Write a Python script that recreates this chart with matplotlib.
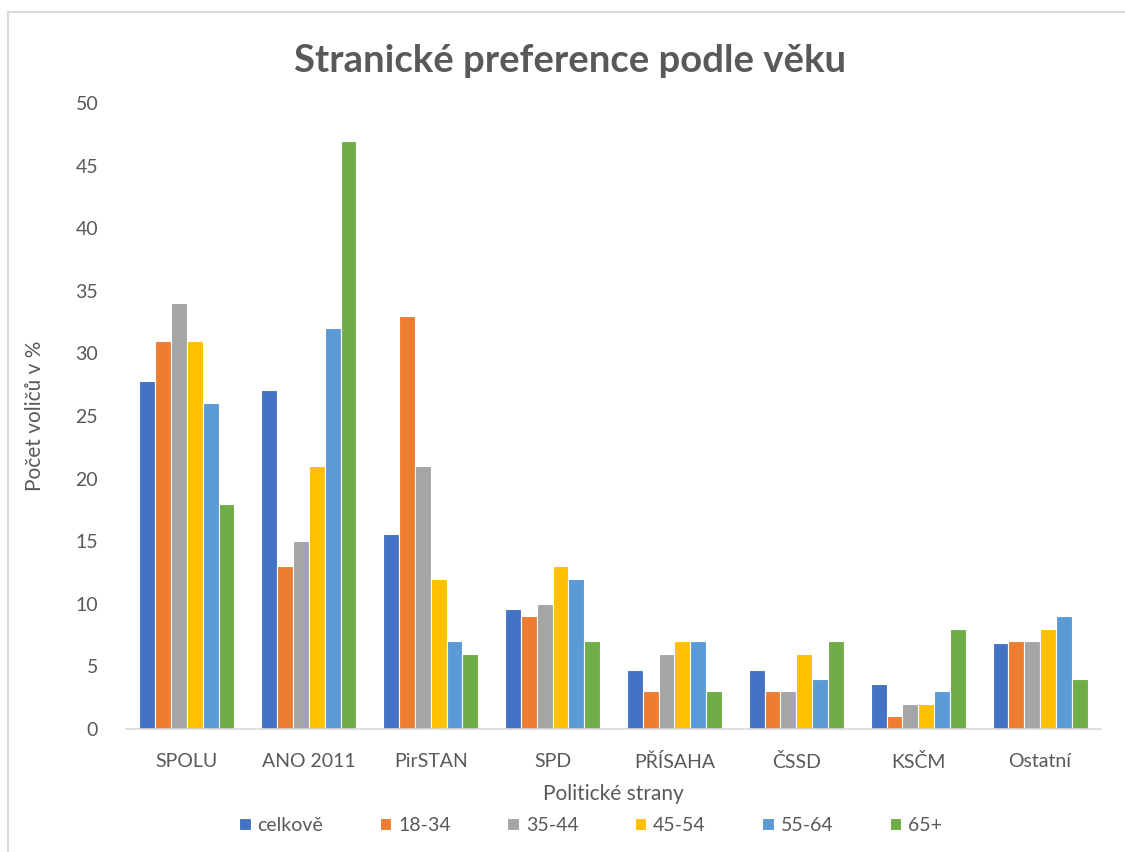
import matplotlib
matplotlib.use("Agg")
import matplotlib.pyplot as plt
import numpy as np
from matplotlib.patches import Rectangle

plt.rcParams['font.family'] = ['Lato', 'DejaVu Sans']

strany = ['SPOLU', 'ANO 2011', 'PirSTAN', 'SPD', 'PŘÍSAHA', 'ČSSD', 'KSČM', 'Ostatní']
skupiny = ['celkově', '18-34', '35-44', '45-54', '55-64', '65+']

celkove = [27.8, 27.1, 15.6, 9.6, 4.7, 4.7, 3.6, 6.9]
vek_18_34 = [31, 13, 33, 9, 3, 3, 1, 7]
vek_35_44 = [34, 15, 21, 10, 6, 3, 2, 7]
vek_45_54 = [31, 21, 12, 13, 7, 6, 2, 8]
vek_55_64 = [26, 32, 7, 12, 7, 4, 3, 9]
vek_65 = [18, 47, 6, 7, 3, 7, 8, 4]

hodnoty = [celkove, vek_18_34, vek_35_44, vek_45_54, vek_55_64, vek_65]
barvy = ['#4472C4', '#ED7D31', '#A5A5A5', '#FFC000', '#5B9BD5', '#70AD47']
text_col = '#595959'

fig = plt.figure(figsize=(11.25, 8.52), dpi=100)
ax = fig.add_axes([0.112, 0.1444, 0.8667, 0.7347])

x = np.arange(len(strany))
w = 0.13
for i, (vals, col, lab) in enumerate(zip(hodnoty, barvy, skupiny)):
    ax.bar(x + (i - 2.5) * w, vals, width=w, color=col, edgecolor='white',
           linewidth=0.8, label=lab)

ax.set_xlim(-0.5, len(strany) - 0.5)
ax.set_ylim(0, 50)
ax.set_yticks(np.arange(0, 51, 5))
ax.set_xticks(x)
ax.set_xticklabels(strany)
ax.tick_params(axis='both', length=0, labelsize=14, colors=text_col)
ax.tick_params(axis='y', pad=20)
ax.tick_params(axis='x', pad=17)
for s in ['top', 'right', 'left']:
    ax.spines[s].set_visible(False)
ax.spines['bottom'].set_color('#D9D9D9')
ax.spines['bottom'].set_linewidth(1.2)

ax.set_ylabel('Počet voličů v %', fontsize=15, color=text_col, labelpad=22)
ax.set_xlabel('Politické strany', fontsize=15, color=text_col, labelpad=10)
fig.text(0.507, 0.928, 'Stranické preference podle věku', ha='center', va='center',
         fontsize=27.5, fontweight='bold', color=text_col)

leg = fig.legend(loc='center', bbox_to_anchor=(0.525, 0.031), ncol=6, frameon=False,
                 fontsize=14, handlelength=0.6, handleheight=0.6,
                 handletextpad=0.35, columnspacing=2.9)
for t in leg.get_texts():
    t.set_color(text_col)

fig.patches.append(Rectangle((8 / 1125, -0.05), 1.2, 1 - 12 / 852 + 0.05,
                             transform=fig.transFigure, fill=False,
                             edgecolor='#D9D9D9', linewidth=1.5))

fig.savefig('out.png', dpi=100)
